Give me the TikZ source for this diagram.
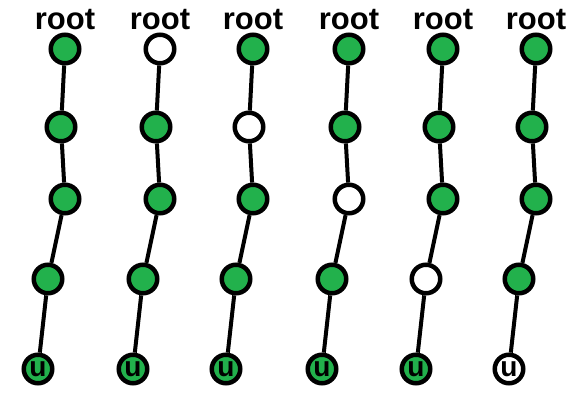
\documentclass[tikz,border=0pt]{standalone}
\usepackage{fontspec}
\setmainfont{Liberation Sans}
\usetikzlibrary{positioning}
\definecolor{paintgreen}{HTML}{22B14C}

\begin{document}
\begin{tikzpicture}[x=1pt, y=-1pt,
    vert/.style={circle, draw=black, line width=4.5pt, minimum size=28.5pt, inner sep=0pt,
      font=\bfseries\fontsize{28}{28}\selectfont},
    rootlbl/.style={inner sep=0pt, font=\bfseries\fontsize{31}{31}\selectfont},
    edge/.style={line width=4pt}]
  \useasboundingbox (0,0) rectangle (581,404);
  % one chain per column, the white vertex moves down one level each time
  \foreach \cx [count=\c] in {65,160,253,349,443,536} {
    \pgfmathtruncatemacro{\wl}{\c-1}
    \foreach \dx/\y [count=\l] in {0/49, -4/127, 0/199, -17/279, -27/369} {
      \ifnum\l=\wl \def\fillc{white}\else\def\fillc{paintgreen}\fi
      \ifnum\l=5 \def\txt{u}\else\def\txt{}\fi
      \node[vert, fill=\fillc] (n\c-\l) at (\cx+\dx, \y) {\txt};
    }
    \node[rootlbl, above=2pt of n\c-1] (lbl\c) {root};
    \foreach \l [evaluate=\l as \k using int(\l+1)] in {1,...,4}
      \draw[edge] (n\c-\l) -- (n\c-\k);
  }
\end{tikzpicture}
\end{document}
